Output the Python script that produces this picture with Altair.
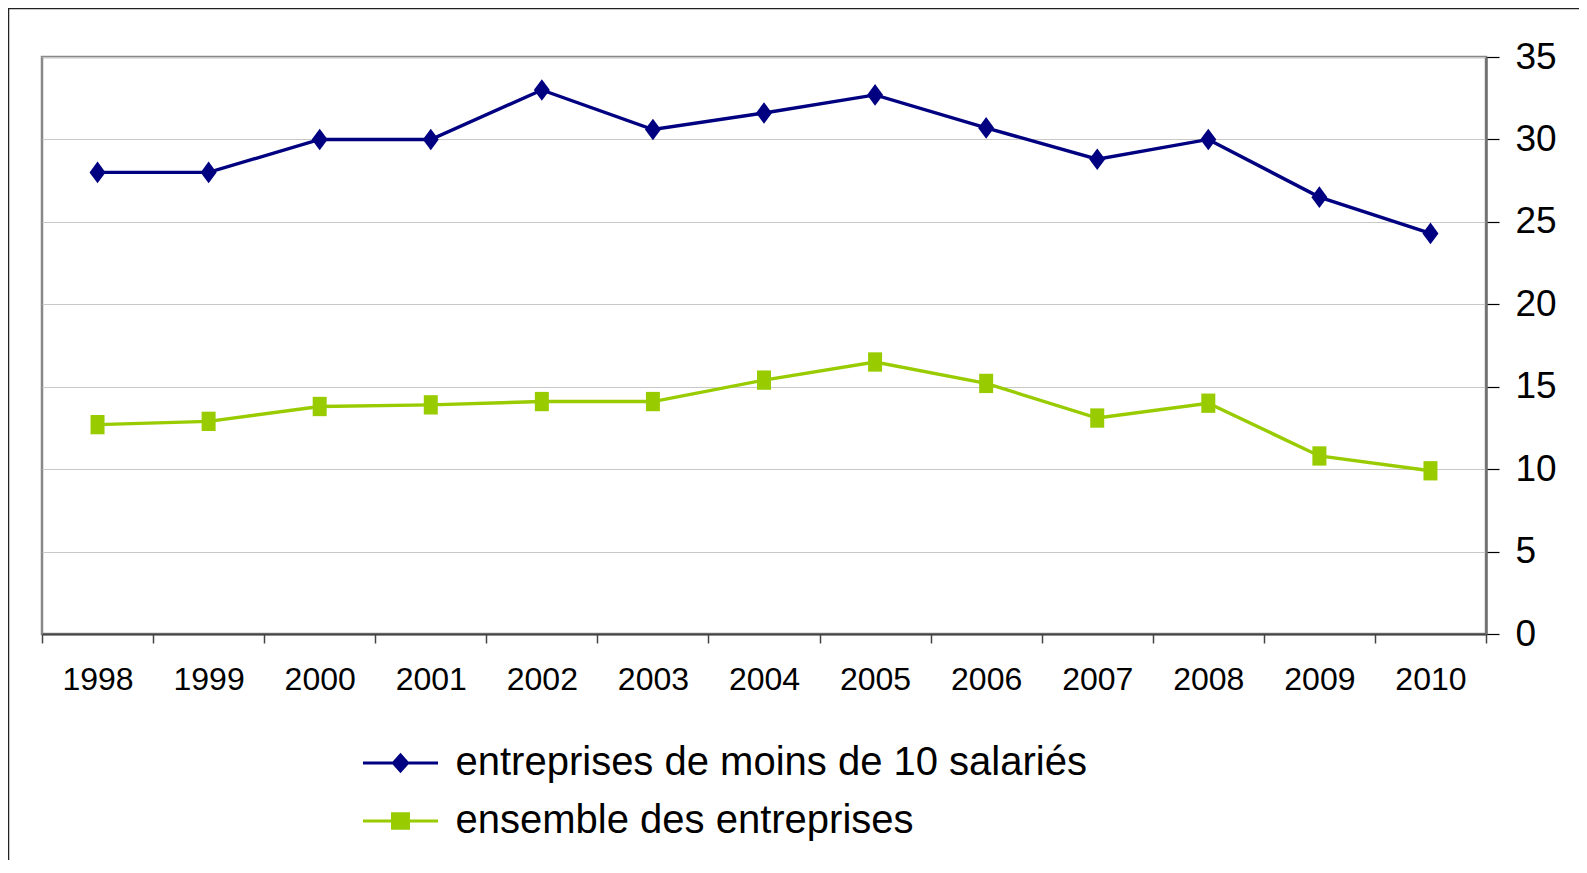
import altair as alt
import pandas as pd

years = [str(y) for y in range(1998, 2011)]
small_firms = [28.0, 28.0, 30.0, 30.0, 33.0, 30.6, 31.6, 32.7, 30.7, 28.8, 30.0, 26.5, 24.3]
all_firms = [12.7, 12.9, 13.8, 13.9, 14.1, 14.1, 15.4, 16.5, 15.2, 13.1, 14.0, 10.8, 9.9]
series_names = ["entreprises de moins de 10 salariés", "ensemble des entreprises"]
series_colors = ["#000080", "#99CC00"]
y_ticks = [0, 5, 10, 15, 20, 25, 30, 35]

rows = []
for name, vals in zip(series_names, [small_firms, all_firms]):
    for yr, v in zip(years, vals):
        rows.append({"year": yr, "series": name, "value": v})
df = pd.DataFrame(rows)

FONT = "Liberation Sans"

diamond_path = "M0,-1.35L1,0L0,1.35L-1,0Z"
rect_path = "M-1,-1.38L1,-1.38L1,1.38L-1,1.38Z"
legend_diamond = "M-3.95,0L3.95,0M0,-0.85L0.75,0L0,0.85L-0.75,0Z"
legend_square = "M-3.95,0L3.95,0M-0.84,-0.77L0.84,-0.77L0.84,0.77L-0.84,0.77Z"

color_scale = alt.Scale(domain=series_names, range=series_colors)

x_enc = alt.X(
    "year:O",
    bandPosition=0.5,
    sort=years,
    scale=alt.Scale(type="band", paddingInner=0, paddingOuter=0, domain=years),
    axis=alt.Axis(
        title=None, labelAngle=0, grid=False, tickBand="extent",
        labelFontSize=32, labelFont=FONT, labelColor="#000000", labelPadding=21,
        tickSize=9, tickColor="#444444", tickWidth=1.5,
        domainColor="#444444", domainWidth=2,
    ),
)
y_enc = alt.Y(
    "value:Q",
    scale=alt.Scale(domain=[0, 35], nice=False, zero=True),
    axis=alt.Axis(
        title=None, orient="right", values=y_ticks, grid=True,
        gridColor="#c8c8c8", gridWidth=1.2,
        labelFontSize=37, labelFont=FONT, labelColor="#000000", labelPadding=16,
        tickSize=13, tickColor="#000000", tickWidth=1.2,
        domainColor="#707070", domainWidth=2.5,
    ),
)

def make_legend():
    return alt.Legend(
        title=None, orient="none", legendX=338.5, legendY=686, direction="vertical",
        labelFontSize=40, labelFont=FONT, labelColor="#000000",
        symbolSize=361, symbolStrokeWidth=3, symbolOpacity=1, labelOffset=35,
        rowPadding=18, labelLimit=1000,
    )

base = alt.Chart(df)

lines = base.mark_line(strokeWidth=3.4).encode(
    x=x_enc, y=y_enc,
    color=alt.Color("series:N", scale=color_scale, legend=None),
    detail="series:N",
)

markers_small = base.transform_filter(
    alt.datum.series == series_names[0]
).mark_point(shape=diamond_path, filled=True, size=256, opacity=1).encode(
    x=x_enc, y=y_enc,
    color=alt.Color("series:N", scale=color_scale, legend=None),
)

markers_all = base.transform_filter(
    alt.datum.series == series_names[1]
).mark_point(shape=rect_path, filled=True, size=196, opacity=1).encode(
    x=x_enc, y=y_enc,
    color=alt.Color("series:N", scale=color_scale, legend=None),
)

legend_layer = base.mark_point(filled=True, opacity=0).encode(
    x=x_enc, y=y_enc,
    fill=alt.Fill("series:N", scale=alt.Scale(domain=series_names, range=series_colors),
                  legend=make_legend()),
    stroke=alt.Stroke("series:N", scale=alt.Scale(domain=series_names, range=series_colors),
                      legend=make_legend()),
    shape=alt.Shape("series:N", scale=alt.Scale(domain=series_names, range=[legend_diamond, legend_square]),
                    legend=make_legend()),
)

frame_data = alt.Data(values=[{"k": 1}])
frame_v = alt.Chart(frame_data).mark_rule(color="#222222", strokeWidth=1.5).encode(
    x=alt.value(-33.5), y=alt.value(-49), y2=alt.value(810)
)
frame_h = alt.Chart(frame_data).mark_rule(color="#222222", strokeWidth=1.5).encode(
    x=alt.value(-34), x2=alt.value(1540), y=alt.value(-48.5)
)

chart = alt.layer(legend_layer, lines, markers_small, markers_all, frame_v, frame_h).properties(
    width=1444,
    height=577,
    padding={"left": 34, "top": 49, "right": 93, "bottom": 226},
    autosize=alt.AutoSizeParams(type="none"),
    background="#ffffff",
).configure_view(
    stroke="#888888", strokeWidth=2.5,
)

chart.save("out.html", embed_options={"renderer": "svg", "actions": False})
